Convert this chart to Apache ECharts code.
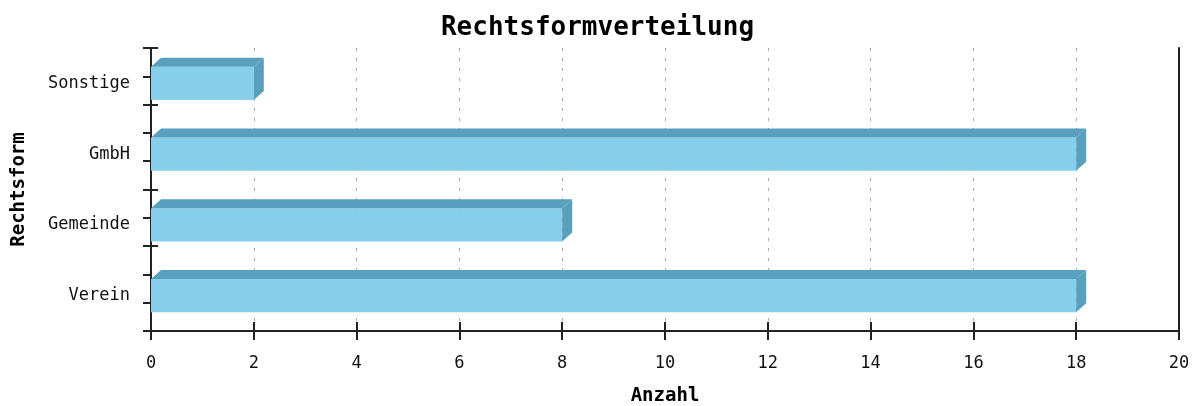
<!DOCTYPE html>
<html>
<head>
<meta charset="utf-8">
<script src="https://cdn.jsdelivr.net/npm/echarts@6/dist/echarts.min.js"></script>
<style>
  html, body { margin: 0; padding: 0; background: #fff; }
  #chart { width: 1195px; height: 406px; }
</style>
</head>
<body>
<div id="chart"></div>
<script>
// Rechtsformen, von unten nach oben
const categories = ['Verein', 'Gemeinde', 'GmbH', 'Sonstige'];
const counts = [18, 8, 18, 2];

// x-Achse
const xMin = 0;
const xMax = 20;
const xStep = 2;

// feine Teilung der y-Achse (11 Striche, unten = 0)
const rowTicks = ['', '', '', '', '', '', '', '', '', '', ''];
const innerTickIdx = [0, 3, 5, 8, 10];

const font = '"DejaVu Sans Mono", "Liberation Mono", monospace';
const axisColor = '#222';
const frontColor = '#87ceeb';
const shadeColor = '#58a0bd';

const chart = echarts.init(document.getElementById('chart'));

function renderBar3d(params, api) {
  const cat = api.value(0);
  const val = api.value(1);
  const start = api.coord([0, cat]);
  const end = api.coord([val, cat]);
  const band = api.size([0, 1])[1];
  const h = band * 0.47;
  const dx = 10, dy = 9;
  const x0 = start[0], x1 = end[0];
  const yTop = end[1] - h / 2;
  const yBot = end[1] + h / 2;
  return {
    type: 'group',
    children: [
      {
        type: 'rect',
        shape: { x: x0, y: yTop, width: x1 - x0, height: h },
        style: { fill: frontColor }
      },
      {
        type: 'polygon',
        shape: { points: [[x0, yTop], [x0 + dx, yTop - dy], [x1 + dx, yTop - dy], [x1, yTop]] },
        style: { fill: shadeColor }
      },
      {
        type: 'polygon',
        shape: { points: [[x1, yTop], [x1 + dx, yTop - dy], [x1 + dx, yBot - dy], [x1, yBot]] },
        style: { fill: shadeColor }
      }
    ]
  };
}

chart.setOption({
  animation: false,
  backgroundColor: '#fff',
  title: {
    text: 'Rechtsformverteilung',
    left: 'center',
    top: 10,
    textStyle: { fontFamily: font, fontSize: 26, fontWeight: 'bold', color: '#000' }
  },
  grid: { left: 151, right: 16, top: 48, bottom: 75, outerBoundsMode: 'none', containLabel: false },
  xAxis: [
    {
      type: 'value',
      min: xMin,
      max: xMax,
      interval: xStep,
      name: 'Anzahl',
      nameLocation: 'middle',
      nameGap: 56,
      nameTextStyle: { fontFamily: font, fontSize: 19, fontWeight: 'bold', color: '#000' },
      axisLine: { show: true, lineStyle: { color: axisColor, width: 2 } },
      axisTick: { show: true, length: 9, lineStyle: { color: axisColor, width: 2 } },
      axisLabel: { fontFamily: font, fontSize: 17, color: '#111', margin: 24 },
      splitLine: { show: true, lineStyle: { color: '#aaa', type: [3, 7], width: 1 } }
    },
    {
      type: 'value',
      min: xMin,
      max: xMax,
      interval: xStep,
      position: 'bottom',
      axisLine: { show: false },
      axisTick: { show: true, inside: true, length: 9, lineStyle: { color: axisColor, width: 2 } },
      axisLabel: { show: false },
      splitLine: { show: false }
    }
  ],
  yAxis: [
    {
      type: 'category',
      data: categories,
      name: 'Rechtsform',
      nameLocation: 'middle',
      nameGap: 122,
      nameRotate: 90,
      nameTextStyle: { fontFamily: font, fontSize: 19, fontWeight: 'bold', color: '#000' },
      axisLine: { show: true, lineStyle: { color: axisColor, width: 2 } },
      axisTick: { show: false },
      axisLabel: { fontFamily: font, fontSize: 17, color: '#111', margin: 21 }
    },
    {
      type: 'category',
      data: rowTicks,
      boundaryGap: false,
      position: 'left',
      axisLine: { show: false },
      axisTick: { show: true, length: 8, interval: 0, lineStyle: { color: axisColor, width: 2 } },
      axisLabel: { show: false }
    },
    {
      type: 'category',
      data: rowTicks,
      boundaryGap: false,
      position: 'left',
      axisLine: { show: false },
      axisTick: {
        show: true, inside: true, length: 7,
        interval: (idx) => innerTickIdx.indexOf(idx) >= 0,
        lineStyle: { color: axisColor, width: 2 }
      },
      axisLabel: { show: false }
    },
    {
      type: 'value',
      position: 'right',
      axisLine: { show: true, lineStyle: { color: axisColor, width: 2 } },
      axisTick: { show: false },
      axisLabel: { show: false },
      splitLine: { show: false }
    }
  ],
  series: [
    {
      type: 'custom',
      renderItem: renderBar3d,
      xAxisIndex: 0,
      yAxisIndex: 0,
      encode: { x: 1, y: 0 },
      data: counts.map((v, i) => [i, v])
    }
  ]
});
</script>
</body>
</html>
